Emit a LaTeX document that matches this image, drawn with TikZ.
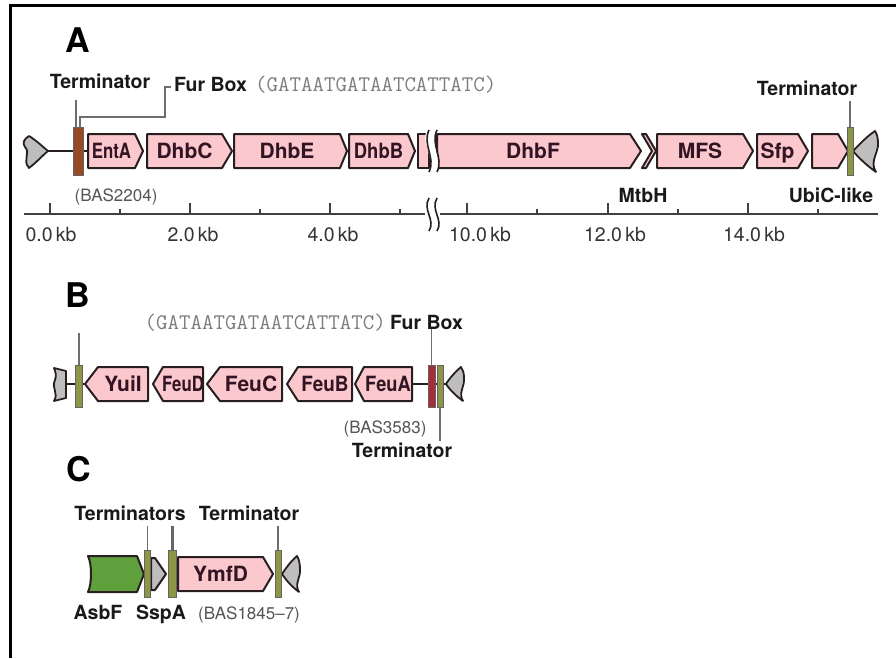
\documentclass[tikz,border=0pt]{standalone}
\usepackage{fontspec}
\usepackage{graphicx}
\setmainfont{TeX Gyre Heros}
\definecolor{pinkf}{RGB}{250,200,205}
\definecolor{outl}{RGB}{40,30,32}
\definecolor{gtext}{RGB}{50,20,35}
\definecolor{olivebar}{RGB}{140,150,70}
\definecolor{brownbar}{RGB}{150,75,35}
\definecolor{redbar}{RGB}{165,45,55}
\definecolor{greengene}{RGB}{95,160,60}
\definecolor{flankgray}{RGB}{190,190,190}
\definecolor{seqgray}{RGB}{125,125,125}
\definecolor{basgray}{RGB}{85,85,85}
\definecolor{leadgray}{RGB}{110,110,110}
\tikzset{
  gene/.style={draw=outl, line width=2pt, line join=round, fill=pinkf},
  glab/.style={font=\fontsize{21}{23}\selectfont\bfseries, text=gtext, inner sep=0pt, anchor=base},
  blab/.style={font=\fontsize{19.5}{22}\selectfont\bfseries, text=black!90, inner sep=0pt, anchor=base},
  plab/.style={font=\fontsize{34}{36}\selectfont\bfseries, inner sep=0pt, anchor=base},
  seqlab/.style={font=\fontsize{22.3}{24}\ttfamily, text=seqgray, inner sep=0pt, anchor=base},
  baslab/.style={font=\fontsize{17}{20}\selectfont, text=basgray, inner sep=0pt, anchor=base},
  kblab/.style={font=\fontsize{19.5}{21}\selectfont, text=black!80, inner sep=0pt, anchor=base},
  tbar/.style={rectangle, draw=outl!70, line width=0.6pt, fill=olivebar, inner sep=0pt},
  lead/.style={draw=leadgray, line width=1.3pt},
  flank/.style={draw=outl, line width=1.8pt, line join=round, fill=flankgray},
  backbone/.style={draw=outl, line width=2.4pt},
  ruler/.style={draw=black!75, line width=2pt},
  brk/.style={draw=outl, line width=1.6pt},
}
\newcommand\geneR[7]{%
  \filldraw[gene, fill=#6] (#2,#5-17) -- (#3,#5-17) -- (#4,#5) -- (#3,#5+17) -- (#2,#5+17) -- cycle;
  \node[glab] (#1) at ({(#2+#3)/2},#5+7.6) {#7};}
\newcommand\geneL[6]{%
  \filldraw[gene] (#2,#5) -- (#3,#5-17) -- (#4,#5-17) -- (#4,#5+17) -- (#3,#5+17) -- cycle;
  \node[glab] (#1) at ({(#3+#4)/2},#5+7.6) {#6};}
\begin{document}
\begin{tikzpicture}[x=1pt,y=-1pt]
\useasboundingbox (0,0) rectangle (896,658);
\fill[white] (0,0) rectangle (896,658);
% frame
\draw[line width=3pt] (10,658) -- (10,6) -- (896,6);

% ================= Panel A =================
\node[plab] (pA) at (78,53) {A};
% backbone
\draw[backbone] (47,151) -- (88,151);
% left flank
\filldraw[flank] (29,136) .. controls (37,141) and (43,147) .. (48,151)
  .. controls (43,155) and (37,162) .. (29,168)
  .. controls (22,160) and (31,153) .. (25,147)
  .. controls (22,143) and (24,139) .. (29,136) -- cycle;
% genes
\geneR{gEntA}{88}{135}{143}{151}{pinkf}{\scalebox{0.8}[1]{EntA}}
\geneR{gDhbC}{147}{222}{232}{151}{pinkf}{DhbC}
\geneR{gDhbE}{234}{340}{347}{151}{pinkf}{DhbE}
\geneR{gDhbB}{349}{408}{415}{151}{pinkf}{\scalebox{0.88}[1]{DhbB}}
% break piece
\filldraw[gene] (429,134) -- (418,134) -- (418,168) -- (429,168) -- cycle;
\filldraw[gene] (437,134) -- (630,134) -- (641,151) -- (630,168) -- (437,168) -- cycle;
\fill[white] (427,130) .. controls (420,145) and (436,157) .. (429,172)
  -- (437,172) .. controls (444,157) and (428,145) .. (435,130) -- cycle;
\draw[brk] (429,130) .. controls (422,145) and (436,157) .. (429,172);
\draw[brk] (437,130) .. controls (430,145) and (444,157) .. (437,172);
\node[glab] (gDhbF) at (533,158.6) {DhbF};
% MtbH chevron
\filldraw[gene] (642,134) -- (646,134) -- (656,151) -- (646,168) -- (642,168) -- (652,151) -- cycle;
\geneR{gMFS}{657}{743}{753}{151}{pinkf}{MFS}
\geneR{gSfp}{757}{798}{808}{151}{pinkf}{Sfp}
\geneR{gUbiC}{812}{838}{848}{151}{pinkf}{}
% right flank
\filldraw[flank] (875,131) .. controls (866,137) and (858,146) .. (853,151)
  .. controls (858,157) and (866,165) .. (876,172)
  .. controls (869,162) and (879,152) .. (878,143)
  .. controls (878,138) and (877,134) .. (875,131) -- cycle;
% bars
\node[tbar, fill=brownbar, minimum width=10pt, minimum height=48pt] (tA1) at (78.5,151) {};
\node[tbar, minimum width=6pt, minimum height=48pt] (tA2) at (850,151) {};
% labels
\node[blab] (termA1) at (100,89) {Terminator};
\node[blab, anchor=base west] (furA) at (174,92) {Fur Box};
\node[seqlab, anchor=base west] (seqA) at (255,92) {(GATAATGATAATCATTATC)};
\node[blab] (termA2) at (807,96) {Terminator};
\node[baslab] (basA) at (116,201) {(BAS2204)};
\node[blab] (mtbh) at (643,202) {MtbH};
\node[blab] (ubic) at (831,202) {UbiC-like};
% leads
\draw[lead] ([xshift=-2.5pt]tA1.north) -- ++(0,-27);
\draw[lead] ([xshift=1.5pt]tA1.north) |- (165,117) |- ([xshift=-3pt,yshift=5pt]furA.base west);
\draw[lead] (tA2.north) -- ++(0,-26);
% ruler
\draw[ruler] (24,214) -- (425,214);
\draw[ruler] (440,214) -- (878,214);
\foreach \x in {50,190,330,467,608,748} \draw[ruler] (\x,203) -- (\x,214);
\foreach \x in {120,260,400,537,678,818} \draw[ruler] (\x,209) -- (\x,214);
\draw[brk] (429,198) .. controls (422,210) and (436,220) .. (429,231);
\draw[brk] (437,198) .. controls (430,210) and (444,220) .. (437,231);
\node[kblab] (kb0) at (51,241) {0.0\,kb};
\node[kblab] (kb2) at (193,241) {2.0\,kb};
\node[kblab] (kb4) at (333,241) {4.0\,kb};
\node[kblab] (kb10) at (480,241) {10.0\,kb};
\node[kblab] (kb12) at (615,241) {12.0\,kb};
\node[kblab] (kb14) at (754,241) {14.0\,kb};

% ================= Panel B =================
\node[plab] (pB) at (78,307) {B};
\draw[backbone] (64,384) -- (86,384);
\draw[backbone] (410,384) -- (447,384);
\filldraw[flank] (54,368) -- (66,371) -- (66,398) -- (54,401)
  .. controls (59,393) and (51,388) .. (55,380) .. controls (57,375) and (55,371) .. (54,368) -- cycle;
\geneL{gYuiI}{85}{98}{148}{384}{YuiI}
\geneL{gFeuD}{153}{163}{203}{384}{\scalebox{0.8}[1]{FeuD}}
\geneL{gFeuC}{207}{220}{282}{384}{FeuC}
\geneL{gFeuB}{287}{298}{352}{384}{\scalebox{0.9}[1]{FeuB}}
\geneL{gFeuA}{355}{364}{412}{384}{\scalebox{0.87}[1]{FeuA}}
\filldraw[flank] (461,367) .. controls (455,372) and (449,379) .. (446,384)
  .. controls (450,390) and (456,396) .. (463,401)
  .. controls (458,393) and (465,386) .. (464,378)
  .. controls (464,373) and (463,370) .. (461,367) -- cycle;
\node[tbar, minimum width=7pt, minimum height=42pt] (tB1) at (79,386) {};
\node[tbar, fill=redbar, minimum width=7pt, minimum height=42pt] (tB2) at (431.5,386) {};
\node[tbar, minimum width=6pt, minimum height=42pt] (tB3) at (440,386) {};
\node[seqlab, anchor=base east] (seqB) at (386,329) {(GATAATGATAATCATTATC)};
\node[blab, anchor=base west] (furB) at (390,329) {Fur Box};
\node[baslab] (basB) at (385,433) {(BAS3583)};
\node[blab] (termB) at (402,457) {Terminator};
\draw[lead] (tB1.north) -- ++(0,-32);
\draw[lead] (tB2.north) -- (tB2.north |- furB.south);
\draw[lead] (tB3.south) -- ++(0,34);

% ================= Panel C =================
\node[plab] (pC) at (79,481) {C};
\filldraw[gene, fill=greengene] (88,556) -- (137,556) -- (144,574) -- (137,592) -- (88,592)
  .. controls (92,584) and (92,564) .. (88,556) -- cycle;
\filldraw[gene, fill=flankgray] (151,558) -- (155,558) -- (166,574) -- (155,590) -- (151,590) -- cycle;
\geneR{gYmfD}{178}{263}{273}{574}{pinkf}{YmfD}
\filldraw[flank] (297,556) .. controls (291,561) and (286,568) .. (282,574)
  .. controls (286,580) and (292,587) .. (299,592)
  .. controls (294,584) and (301,577) .. (300,569)
  .. controls (300,564) and (299,559) .. (297,556) -- cycle;
\node[tbar, minimum width=6pt, minimum height=47pt] (tC1) at (147.5,573.5) {};
\node[tbar, minimum width=8pt, minimum height=47pt] (tC2) at (172.5,573.5) {};
\node[tbar, minimum width=6pt, minimum height=47pt] (tC3) at (278,573.5) {};
\node[blab] (termsC) at (130,520) {Terminators};
\node[blab] (termC) at (249,520) {Terminator};
\draw[lead] (tC1.north) -- ++(0,-24);
\draw[lead, line width=2.6pt, draw=black!60] (tC2.north) -- ++(0,-24);
\draw[lead] (tC3.north) -- ++(0,-24);
\node[blab] (asbf) at (98,619) {AsbF};
\node[blab] (sspa) at (161,619) {SspA};
\node[baslab] (basC) at (249,619) {(BAS1845--7)};
\end{tikzpicture}
\end{document}
